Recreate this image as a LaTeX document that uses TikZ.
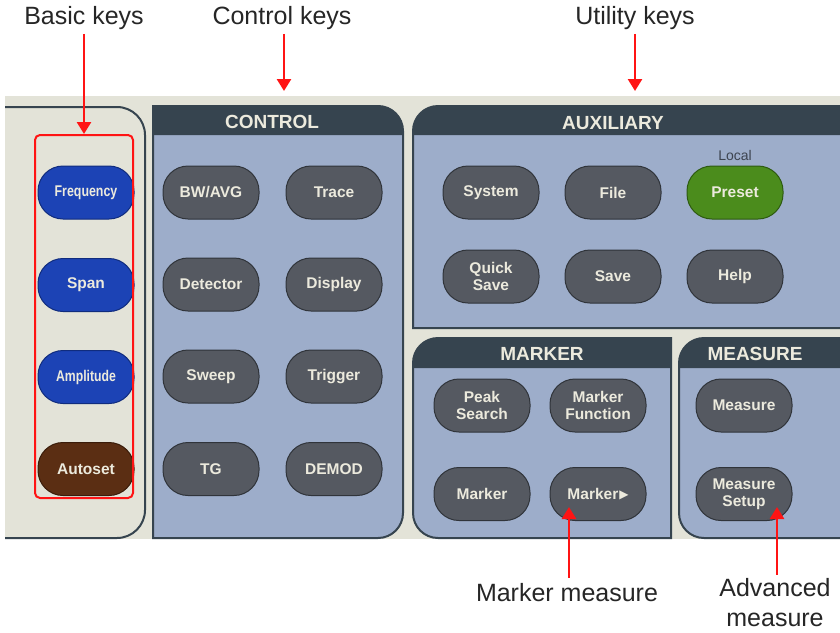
\documentclass[tikz,border=0pt]{standalone}
\usepackage{fontspec}
\setmainfont{Liberation Sans}
\newfontfamily\dejavu{DejaVu Sans}
\usetikzlibrary{arrows.meta}
\definecolor{bgbeige}{HTML}{E3E3D8}
\definecolor{panelblue}{HTML}{9DADCA}
\definecolor{headdark}{HTML}{36444F}
\definecolor{keygray}{HTML}{555961}
\definecolor{keyedge}{HTML}{30343A}
\definecolor{keytext}{HTML}{ECEADD}
\definecolor{keyblue}{HTML}{1C43B5}
\definecolor{blueedge}{HTML}{102C7E}
\definecolor{keybrown}{HTML}{5B2E13}
\definecolor{brownedge}{HTML}{3A1C0A}
\definecolor{keygreen}{HTML}{4B8C1C}
\definecolor{greenedge}{HTML}{2D5A10}
\definecolor{arrowred}{HTML}{FF1414}
\definecolor{labeltext}{HTML}{262626}
\definecolor{localtext}{HTML}{3D4450}
\begin{document}
\begin{tikzpicture}[x=1pt,y=-1pt,
  key/.style={draw=keyedge, line width=1pt, fill=keygray, rounded corners=25pt,
    minimum width=96pt, minimum height=53pt, inner sep=0pt, text=keytext,
    font=\fontsize{15.5}{17}\selectfont\bfseries, align=center},
  bluekey/.style={key, fill=keyblue, draw=blueedge},
  brownkey/.style={key, fill=keybrown, draw=brownedge},
  greenkey/.style={key, fill=keygreen, draw=greenedge},
  panelline/.style={draw=headdark, line width=2pt},
  headtext/.style={text=keytext, font=\fontsize{19}{21}\selectfont\bfseries, inner sep=0pt},
  lbl/.style={text=labeltext, font=\fontsize{25}{30}\selectfont, inner sep=1pt, align=center},
  redarrow/.style={draw=arrowred, line width=2.6pt, -{Triangle[width=14pt,length=12pt]}}
]
\useasboundingbox (0,0) rectangle (840,632);
\fill[white] (0,0) rectangle (840,632);
% beige band
\fill[bgbeige] (5,96) rectangle (840,539);

% basic panel
\draw[panelline, fill=bgbeige] (5,107) -- (117,107) arc[start angle=-90,end angle=0,radius=28]
  -- (145,510) arc[start angle=0,end angle=90,radius=28] -- (5,538);

% control panel
\fill[panelblue] (153,106) -- (378,106) arc[start angle=-90,end angle=0,radius=25]
  -- (403,513) arc[start angle=0,end angle=90,radius=25] -- (153,538) -- cycle;
\fill[headdark] (153,106) -- (378,106) arc[start angle=-90,end angle=0,radius=25]
  -- (403,135) -- (153,135) -- cycle;
\draw[panelline] (153,106) -- (378,106) arc[start angle=-90,end angle=0,radius=25]
  -- (403,513) arc[start angle=0,end angle=90,radius=25] -- (153,538) -- cycle;
\node[headtext] (hcontrol) at (272,122) {CONTROL};

% auxiliary panel
\fill[panelblue] (841,106) -- (438,106) arc[start angle=270,end angle=180,radius=25]
  -- (413,328) -- (841,328) -- cycle;
\fill[headdark] (841,106) -- (438,106) arc[start angle=270,end angle=180,radius=25]
  -- (413,135) -- (841,135) -- cycle;
\draw[panelline] (841,106) -- (438,106) arc[start angle=270,end angle=180,radius=25]
  -- (413,328) -- (841,328);
\node[headtext] (haux) at (613,123) {AUXILIARY};

% marker panel
\fill[panelblue] (671,338) -- (438,338) arc[start angle=270,end angle=180,radius=25]
  -- (413,513) arc[start angle=180,end angle=90,radius=25] -- (671,538) -- cycle;
\fill[headdark] (671,338) -- (438,338) arc[start angle=270,end angle=180,radius=25]
  -- (413,368) -- (671,368) -- cycle;
\draw[panelline] (671,338) -- (438,338) arc[start angle=270,end angle=180,radius=25]
  -- (413,513) arc[start angle=180,end angle=90,radius=25] -- (671,538) -- cycle;
\node[headtext] (hmarker) at (542,354) {MARKER};

% measure panel
\fill[panelblue] (841,338) -- (704,338) arc[start angle=270,end angle=180,radius=25]
  -- (679,513) arc[start angle=180,end angle=90,radius=25] -- (841,538) -- cycle;
\fill[headdark] (841,338) -- (704,338) arc[start angle=270,end angle=180,radius=25]
  -- (679,368) -- (841,368) -- cycle;
\draw[panelline] (841,338) -- (704,338) arc[start angle=270,end angle=180,radius=25]
  -- (679,513) arc[start angle=180,end angle=90,radius=25] -- (841,538);
\node[headtext] (hmeasure) at (755,354) {MEASURE};

% basic keys
\node[bluekey] (freq) at (86,192.5) {\scalebox{0.8}[1]{Frequency}};
\node[bluekey] (span) at (86,285) {Span};
\node[bluekey] (ampl) at (86,377) {\scalebox{0.79}[1]{Amplitude}};
\node[brownkey] (autoset) at (86,469) {Autoset};
\node[draw=arrowred, line width=2pt, rounded corners=5pt, minimum width=98pt,
  minimum height=363pt, inner sep=0pt] (basicbox) at (84,316.5) {};

% control keys
\node[key] (bwavg) at (211,192.5) {BW/AVG};
\node[key] (trace) at (334,192.5) {Trace};
\node[key] (detector) at (211,284.5) {Detector};
\node[key] (display) at (334,284.5) {Display};
\node[key] (sweep) at (211,376.5) {Sweep};
\node[key] (trigger) at (334,376.5) {Trigger};
\node[key] (tg) at (211,469) {TG};
\node[key] (demod) at (334,469) {DEMOD};

% auxiliary keys
\node[key] (system) at (491,192.5) {System};
\node[key] (file) at (613,192.5) {File};
\node[greenkey] (preset) at (735,192.5) {Preset};
\node[text=localtext, font=\fontsize{14}{16}\selectfont, inner sep=0pt] (local) at (735,155) {Local};
\node[key] (quicksave) at (491,276.5) {Quick\\Save};
\node[key] (save) at (613,276.5) {Save};
\node[key] (help) at (735,276.5) {Help};

% marker keys
\node[key] (peak) at (482,405.5) {Peak\\Search};
\node[key] (mfunc) at (598,405.5) {Marker\\Function};
\node[key] (marker) at (482,494) {Marker};
\node[key] (markerto) at (598,494) {Marker\hspace{1pt}\raisebox{1.2pt}{\dejavu\fontsize{12}{14}\selectfont ▶}};

% measure keys
\node[key] (measure) at (744,405.5) {Measure};
\node[key] (msetup) at (744,494) {Measure\\Setup};

% labels and arrows
\node[lbl] (lbasic) at (84,18) {Basic keys};
\node[lbl] (lcontrol) at (282,18) {Control keys};
\node[lbl] (lutility) at (635,18) {Utility keys};
\coordinate (ctip) at (284,91);
\coordinate (utip) at (635,91);
\draw[redarrow] ([yshift=-3pt]lbasic.south) -- (basicbox.north);
\draw[redarrow] ([yshift=-3pt]lcontrol.south -| ctip) -- (ctip);
\draw[redarrow] ([yshift=-3pt]lutility.south -| utip) -- (utip);

\node[lbl] (lmarker) at (567,593) {Marker measure};
\node[lbl] (ladv) at (775,603) {Advanced\\measure};
\coordinate (mtip) at (569,507);
\coordinate (atip) at (777,507);
\draw[redarrow] ([yshift=5pt]lmarker.north -| mtip) -- (mtip);
\draw[redarrow] ([yshift=3pt]ladv.north -| atip) -- (atip);
\end{tikzpicture}
\end{document}
